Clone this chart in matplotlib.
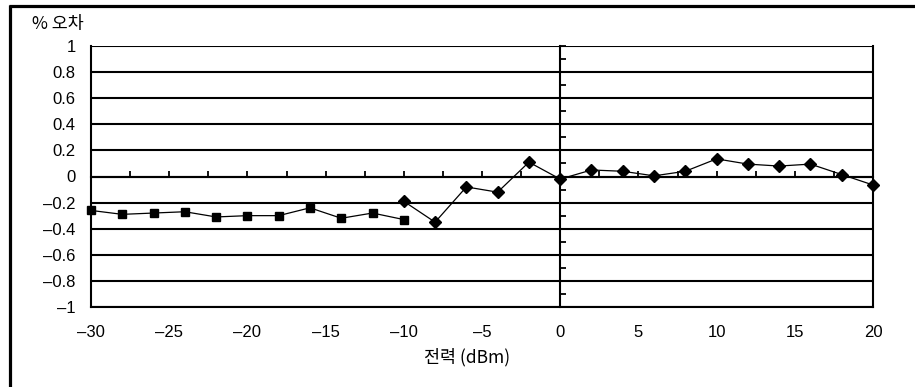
import numpy as np
import matplotlib
matplotlib.use("Agg")
import matplotlib.pyplot as plt
from matplotlib.lines import Line2D

# Low-power range (square markers) and high-power range (diamond markers)
power_low = [-30, -28, -26, -24, -22, -20, -18, -16, -14, -12, -10]
error_low = [-0.26, -0.29, -0.28, -0.27, -0.31, -0.30, -0.30, -0.24, -0.32, -0.28, -0.33]

power_high = [-10, -8, -6, -4, -2, 0, 2, 4, 6, 8, 10, 12, 14, 16, 18, 20]
error_high = [-0.19, -0.35, -0.08, -0.12, 0.11, -0.02, 0.05, 0.04, 0.005, 0.04,
              0.135, 0.095, 0.08, 0.095, 0.015, -0.065]

x_ticks = [-30, -25, -20, -15, -10, -5, 0, 5, 10, 15, 20]
y_ticks = [-1, -0.8, -0.6, -0.4, -0.2, 0, 0.2, 0.4, 0.6, 0.8, 1]

num_font = ['Liberation Sans Narrow', 'Liberation Sans', 'DejaVu Sans']
kr_font = ['Noto Sans CJK KR', 'DejaVu Sans']

W, H = 915, 387
fig = plt.figure(figsize=(W / 100, H / 100), dpi=100)

# Outer frame (top and left edges)
fig.add_artist(Line2D([9 / W, 1.0], [1 - 6 / H, 1 - 6 / H], color='black', lw=2.3,
                      transform=fig.transFigure, solid_capstyle='butt'))
fig.add_artist(Line2D([9.5 / W, 9.5 / W], [0, 1 - 5 / H], color='black', lw=2.3,
                      transform=fig.transFigure, solid_capstyle='butt'))

left, right, top, bottom = 91, 873, 46, 307
rect = [left / W, 1 - bottom / H, (right - left) / W, (bottom - top) / H]
ax = fig.add_axes(rect)
ax.set_xlim(-30, 20)
ax.set_ylim(-1, 1)

# Horizontal grid
for v in y_ticks:
    ax.axhline(v, color='black', lw=1.5, zorder=1)
for s in ax.spines.values():
    s.set_linewidth(1.5)
ax.spines['top'].set_visible(False)

ax.set_xticks(x_ticks)
ax.set_yticks(y_ticks)
ax.set_xticklabels([f"{t}".replace('-', '\u2013') for t in x_ticks],
                   fontfamily=num_font, fontsize=12, fontweight='medium')
ax.set_yticklabels([f"{t:g}".replace('-', '\u2013') for t in y_ticks],
                   fontfamily=num_font, fontsize=12, fontweight='medium')
ax.tick_params(axis='both', length=0)
ax.tick_params(axis='x', pad=13)
ax.tick_params(axis='y', pad=11)

# Crossing axes at x=0 / y=0 with inward ticks
ax2 = fig.add_axes(rect)
ax2.set_xlim(-30, 20)
ax2.set_ylim(-1, 1)
ax2.patch.set_alpha(0)
for k in ['top', 'right']:
    ax2.spines[k].set_visible(False)
ax2.spines['left'].set_position(('data', 0))
ax2.spines['bottom'].set_position(('data', 0))
ax2.spines['left'].set_linewidth(1.5)
ax2.spines['bottom'].set_linewidth(1.5)
ax2.set_xticks(np.arange(-30, 20.1, 2.5))
ax2.set_yticks(np.arange(-1, 1.01, 0.1))
ax2.tick_params(direction='in', length=4, width=1.3, labelbottom=False, labelleft=False)

# Data series
ax2.plot(power_low, error_low, color='black', lw=0.9, marker='s', markersize=6,
         clip_on=False, zorder=5)
ax2.plot(power_high, error_high, color='black', lw=0.9, marker='D', markersize=6.5,
         clip_on=False, zorder=5)

# Axis titles
fig.text(32 / W, 1 - 24 / H, '% 오차', fontfamily=kr_font, fontsize=12.5, va='center', ha='left')
fig.text(467 / W, 1 - 357 / H, '전력 (dBm)', fontfamily=kr_font, fontsize=12.5, va='center', ha='center')

fig.savefig('out.png', dpi=100)
